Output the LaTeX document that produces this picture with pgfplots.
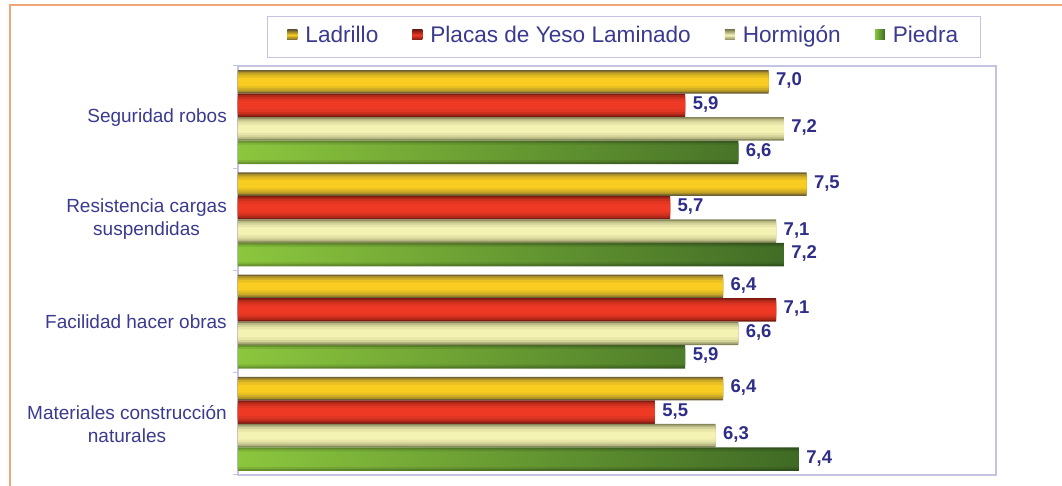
\documentclass[border=0pt]{standalone}
\usepackage{pgfplots}
\usepackage{pgfplotstable}
\pgfplotsset{compat=1.18}
\usepackage{fontspec}
\setmainfont{Liberation Sans}
\definecolor{txt}{HTML}{3B3A8F}
\definecolor{val}{HTML}{2E2D88}
\definecolor{axisline}{HTML}{C4C4E2}
\definecolor{frame}{HTML}{F0A676}
\definecolor{ladE}{HTML}{6E6030}
\definecolor{ladM}{HTML}{F8CC20}
\definecolor{redE}{HTML}{7A1A10}
\definecolor{redM}{HTML}{EE3A24}
\definecolor{horE}{HTML}{86865A}
\definecolor{horM}{HTML}{F4F2B2}
\definecolor{grL}{HTML}{8CC63E}
\definecolor{grR}{HTML}{3F6A25}
% values: x = score, y = group (3 = Seguridad robos ... 0 = Materiales)
\pgfplotstableread{
x y
6.4 0
6.4 1
7.5 2
7.0 3
}\ladrillo
\pgfplotstableread{
x y
5.5 0
7.1 1
5.7 2
5.9 3
}\placas
\pgfplotstableread{
x y
6.3 0
6.6 1
7.1 2
7.2 3
}\hormigon
\pgfplotstableread{
x y
7.4 0
5.9 1
7.2 2
6.6 3
}\piedra
\newcommand{\cyl}[4]{%
\addplot[vals, draw=none, fill=#1, bar shift=#3, bar width=0.23,
  legend image code/.code={\path[top color=#1, bottom color=#1, middle color=#2] (0pt,-2.5pt) rectangle (10pt,7.5pt);}] table {#4};
\addplot[forget plot, draw=none, fill=#2!45!#1, bar shift=#3, bar width=0.20] table {#4};
\addplot[forget plot, draw=none, fill=#2!70!#1, bar shift=#3, bar width=0.165] table {#4};
\addplot[forget plot, draw=none, fill=#2!88!#1, bar shift=#3, bar width=0.125] table {#4};
\addplot[forget plot, draw=none, fill=#2, bar shift=#3, bar width=0.08] table {#4};
}
\begin{document}
\begin{tikzpicture}
\useasboundingbox (-238pt,-11pt) rectangle (824pt,475pt);
\fill[white] (-238pt,-11pt) rectangle (824pt,475pt);
\draw[frame, line width=2pt] (-228pt,-30pt) -- (-228pt,470pt) -- (840pt,470pt);
\begin{axis}[
  at={(0pt,0pt)}, anchor=south west,
  scale only axis, width=758pt, height=409pt,
  xbar, xmin=0, xmax=10,
  ymin=-0.5, ymax=3.5,
  bar width=0.23,
  axis line style={draw=axisline, line width=1.2pt},
  xtick=\empty,
  ytick={0,1,2,3},
  yticklabels={{Materiales construcción\\naturales}, Facilidad hacer obras, {Resistencia cargas\\suspendidas}, Seguridad robos},
  yticklabel style={align=center, font=\fontsize{19}{23}\selectfont, text=txt, inner xsep=0pt, xshift=-11pt},
  major tick length=0pt,
  minor ytick={-0.5,0.5,1.5,2.5,3.5},
  minor tick length=5pt,
  minor y tick style={draw=axisline, line width=1pt},
  tick align=outside,
  ytick pos=left,
  point meta=x,
  vals/.style={nodes near coords={\pgfmathprintnumber[fixed,fixed zerofill,precision=1,use comma,assume math mode=true]{\pgfplotspointmeta}},
    nodes near coords style={font=\bfseries\fontsize{18.5}{20}\selectfont, text=val, anchor=west, xshift=4pt, yshift=1pt}},
  legend columns=4,
  legend style={at={(0.509,1.0697)}, anchor=center, draw=axisline, line width=1pt,
    font=\fontsize{22.6}{24}\selectfont, text=txt, inner xsep=20pt, inner ysep=8pt,
    nodes={text height=16pt, text depth=5pt},
    /tikz/every odd column/.append style={column sep=6pt},
    /tikz/every even column/.append style={column sep=32pt}},
]
\cyl{ladE}{ladM}{0.345}{\ladrillo}
\addlegendentry{Ladrillo}
\cyl{redE}{redM}{0.115}{\placas}
\addlegendentry{Placas de Yeso Laminado}
\cyl{horE}{horM}{-0.115}{\hormigon}
\addlegendentry{Hormigón}
\addplot[vals, draw=none, left color=grL!75!black, right color=grR!75!black, bar shift=-0.345, bar width=0.23,
  legend image code/.code={\path[left color=grL, right color=grR] (0pt,-2.5pt) rectangle (10pt,7.5pt);}] table {\piedra};
\addlegendentry{Piedra}
\addplot[forget plot, draw=none, left color=grL!90!black, right color=grR!90!black, bar shift=-0.345, bar width=0.19] table {\piedra};
\addplot[forget plot, draw=none, left color=grL, right color=grR, bar shift=-0.345, bar width=0.15] table {\piedra};
\end{axis}
\end{tikzpicture}
\end{document}
